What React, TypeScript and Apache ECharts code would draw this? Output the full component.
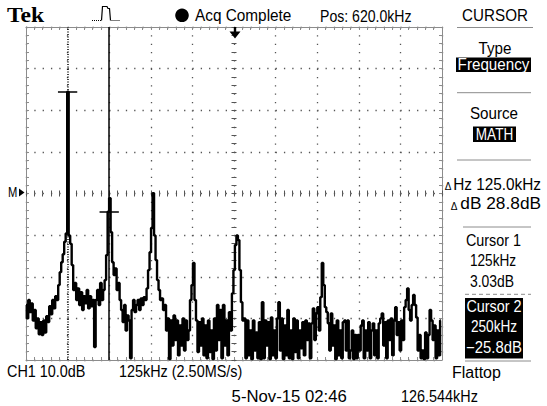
import React, { useEffect, useRef } from "react";
import * as echarts from "echarts";

const FREQ_SPAN_KHZ = 1250; // 10 div x 125 kHz/div
const BIN_KHZ = 4.5; // spacing of the displayed FFT samples
const DB_MIN = -61.4;
const DB_MAX = 18.6; // 8 div x 10 dB/div

const LEVEL_DB: number[] = [
  -48.2, -51.4, -47.0, -49.9, -47.8, -51.9, -49.4, -53.8, -51.4, -55.2,
  -52.3, -55.4, -51.9, -54.8, -50.9, -52.3, -48.5, -50.4, -47.0, -49.0,
  -46.1, -47.0, -43.4, -40.3, -37.9, -36.0, -33.0, -31.0, 3.03, -31.5,
  -33.5, -38.6, -44.6, -42.9, -47.0, -44.2, -48.2, -45.1, -49.4, -46.1,
  -47.8, -44.6, -49.0, -46.1, -48.5, -47.0, -58.3, -47.0, -44.6, -48.2,
  -42.9, -47.0, -44.6, -42.2, -36.2, -25.8, -22.5, -30.7, -37.9, -41.0,
  -39.4, -44.6, -42.9, -47.0, -49.4, -52.3, -48.2, -54.3, -50.7, -51.9,
  -61.0, -49.4, -47.0, -49.9, -48.2, -47.0, -49.4, -46.6, -48.2, -46.3,
  -47.0, -44.2, -39.8, -35.5, -29.7, -21.3, -31.5, -37.4, -42.2, -44.6,
  -47.0, -46.6, -49.4, -48.2, -54.3, -51.4, -61.2, -51.9, -57.9, -50.7,
  -56.6, -51.9, -60.3, -53.1, -57.9, -51.4, -59.1, -51.9, -56.6, -54.3,
  -47.0, -43.4, -38.1, -47.0, -51.9, -59.5, -52.3, -57.9, -51.4, -60.3,
  -53.1, -61.0, -51.9, -59.5, -54.3, -61.2, -51.4, -59.1, -48.2, -56.6,
  -49.4, -61.0, -48.2, -57.9, -51.9, -60.3, -49.9, -54.3, -45.4, -39.8,
  -33.8, -31.5, -32.6, -39.8, -47.5, -51.9, -51.4, -61.0, -51.9, -60.3,
  -54.3, -61.2, -51.9, -59.1, -54.8, -61.0, -52.3, -61.2, -47.5, -61.0,
  -51.9, -57.9, -52.3, -61.2, -51.2, -60.3, -54.3, -61.0, -51.4, -47.5,
  -59.1, -51.4, -61.2, -53.1, -60.3, -49.4, -61.0, -54.3, -61.2, -51.4,
  -59.5, -51.9, -61.0, -54.3, -58.6, -52.3, -60.3, -51.9, -56.6, -52.6,
  -61.0, -52.6, -49.0, -56.6, -50.2, -48.7, -54.3, -46.3, -38.1, -43.4,
  -48.7, -49.9, -52.6, -59.1, -50.2, -57.9, -53.1, -61.2, -51.9, -60.3,
  -54.3, -61.0, -52.3, -51.9, -59.1, -51.9, -61.0, -59.1, -54.3, -61.2,
  -55.4, -61.0, -55.4, -59.1, -53.1, -51.9, -61.0, -54.3, -59.1, -52.3,
  -61.0, -54.3, -52.6, -60.3, -54.3, -61.0, -52.6, -51.4, -50.2, -57.9,
  -52.3, -61.0, -51.9, -56.6, -51.4, -60.3, -51.9, -48.7, -55.4, -52.3,
  -59.1, -51.9, -56.6, -48.7, -47.0, -44.2, -49.4, -51.9, -48.2, -45.8,
  -48.2, -51.2, -59.1, -55.4, -61.0, -59.1, -61.2, -54.8, -61.0, -55.4,
  -49.4, -51.9, -56.6, -53.1, -61.0, -54.3, -60.3, -51.9,
];

const CURSOR1 = { freq: 125, db: 3.03 };
const CURSOR2 = { freq: 250, db: -25.8 };

const HEADER = { brand: "Tek", acq: "Acq Complete", pos: "Pos: 620.0kHz", menu: "CURSOR" };
const PANEL = {
  typeLabel: "Type",
  typeValue: "Frequency",
  sourceLabel: "Source",
  sourceValue: "MATH",
  deltaHz: "Hz 125.0kHz",
  deltaDb: "dB 28.8dB",
  c1: ["Cursor 1", "125kHz", "3.03dB"],
  c2: ["Cursor 2", "250kHz", "\u221225.8dB"],
};
const FOOTER = {
  ch: "CH1 10.0dB",
  span: "125kHz (2.50MS/s)",
  window: "Flattop",
  date: "5-Nov-15 02:46",
  counter: "126.544kHz",
};

// ---- layout ----
const GRID = { left: 26, top: 27, width: 416, height: 333 };
const FRAME = "#8c8c8c";
const DOT = "#555";
const SANS = '"Liberation Sans", Arial, sans-serif';
const CROSS_KHZ = 29;

function txt(text: string, x: number, y: number, o: any = {}) {
  const align = o.align ?? "left";
  return {
    type: "text",
    x,
    y,
    scaleX: o.sx ?? 0.9,
    silent: true,
    z: 10,
    style: {
      text,
      x: 0,
      y: 0,
      fill: o.fill ?? "#000",
      font: o.font ?? `${o.size ?? 16}px ${SANS}`,
      textAlign: align,
      align,
      textVerticalAlign: "middle",
      verticalAlign: "middle",
    },
  };
}
function hline(x1: number, x2: number, y: number, dash?: number[]) {
  return {
    type: "line",
    silent: true,
    shape: { x1, y1: y, x2, y2: y },
    style: { stroke: FRAME, lineWidth: 1, lineDash: dash },
  };
}
function rect(x: number, y: number, w: number, h: number) {
  return { type: "rect", silent: true, shape: { x, y, width: w, height: h }, style: { fill: "#000" } };
}

function divAxis(max: number, extra: any) {
  return {
    type: "value",
    min: 0,
    max,
    interval: 1,
    axisLabel: { show: false },
    splitLine: { show: false },
    axisLine: { show: false, onZero: false },
    axisTick: { show: true, inside: true, length: 3, lineStyle: { color: FRAME, width: 1 } },
    minorTick: { show: true, splitNumber: 5, length: 3, lineStyle: { color: FRAME, width: 1 } },
    ...extra,
  };
}
const frameLine = { show: true, onZero: false, lineStyle: { color: FRAME, width: 1 } };

export default function App() {
  const ref = useRef<HTMLDivElement>(null);
  useEffect(() => {
    if (!ref.current) return;
    const chart = echarts.init(ref.current, undefined, { renderer: "svg" });
    const trace = LEVEL_DB.map((v, i) => [i * BIN_KHZ, v]);
    const tickIn = (len: number) => ({ show: true, inside: true, length: len, lineStyle: { color: DOT, width: 1 } });
    const tickOut = (len: number) => ({ show: true, inside: false, length: len, lineStyle: { color: DOT, width: 1 } });
    const minor = (len: number) => ({ show: true, splitNumber: 5, length: len, lineStyle: { color: DOT, width: 1 } });
    const dotted = { show: true, lineStyle: { color: DOT, width: 1.3, type: [1.3, 7.02] } };

    const option: any = {
      animation: false,
      backgroundColor: "#fff",
      grid: { ...GRID, containLabel: false, outerBoundsMode: "none" },
      xAxis: [
        { type: "value", min: 0, max: FREQ_SPAN_KHZ, show: false, axisLine: { onZero: false } },
        divAxis(10, { position: "bottom", axisLine: frameLine, splitLine: dotted }),
        divAxis(10, { position: "top", axisLine: frameLine }),
        divAxis(10, { position: "bottom", offset: -GRID.height / 2, axisTick: tickIn(3), minorTick: minor(3) }),
        divAxis(10, { position: "bottom", offset: -GRID.height / 2, axisTick: tickOut(3), minorTick: minor(3) }),
      ],
      yAxis: [
        { type: "value", min: DB_MIN, max: DB_MAX, show: false, axisLine: { onZero: false } },
        divAxis(8, { position: "left", axisLine: frameLine, splitLine: dotted }),
        divAxis(8, { position: "right", axisLine: frameLine }),
        divAxis(8, { position: "left", offset: -GRID.width / 2, axisTick: tickIn(2.5), minorTick: minor(2.5) }),
        divAxis(8, { position: "left", offset: -GRID.width / 2, axisTick: tickOut(2.5), minorTick: minor(2.5) }),
      ],
      series: [
        {
          type: "line",
          xAxisIndex: 0,
          yAxisIndex: 0,
          data: trace,
          step: "middle",
          showSymbol: false,
          symbol: "none",
          clip: true,
          silent: true,
          z: 5,
          lineStyle: { color: "#000", width: 2.4 },
          markLine: {
            silent: true,
            symbol: ["none", "none"],
            label: { show: false },
            emphasis: { disabled: true },
            data: [
              { xAxis: CURSOR1.freq, lineStyle: { color: "#000", width: 1.5, type: [1, 1.5] } },
              { xAxis: CURSOR2.freq, lineStyle: { color: "#000", width: 1.5, type: "solid" } },
              [
                { coord: [CURSOR1.freq - CROSS_KHZ, CURSOR1.db], lineStyle: { color: "#000", width: 1.5, type: "solid" } },
                { coord: [CURSOR1.freq + CROSS_KHZ, CURSOR1.db] },
              ],
              [
                { coord: [CURSOR2.freq - CROSS_KHZ, CURSOR2.db], lineStyle: { color: "#000", width: 1.5, type: "solid" } },
                { coord: [CURSOR2.freq + CROSS_KHZ, CURSOR2.db] },
              ],
            ],
          },
        },
      ],
      graphic: {
        elements: [
          // header
          txt(HEADER.brand, 7, 15.2, { font: `bold 20px "Liberation Serif", "Times New Roman", serif`, sx: 1.18 }),
          { type: "line", silent: true, shape: { x1: 92, y1: 20.5, x2: 101, y2: 20.5 }, style: { stroke: "#000", lineWidth: 1, lineDash: [1, 1] } },
          {
            type: "polyline",
            silent: true,
            shape: { points: [[101.5, 20.5], [102.5, 6.5], [107, 6.5], [108, 8.5], [109.5, 8.5], [110.5, 20.5]] },
            style: { stroke: "#000", lineWidth: 1.2, fill: "none" },
          },
          { type: "line", silent: true, shape: { x1: 111.5, y1: 20.5, x2: 120, y2: 20.5 }, style: { stroke: "#000", lineWidth: 1, lineDash: [1, 1] } },
          { type: "circle", silent: true, shape: { cx: 182, cy: 15.3, r: 6.8 }, style: { fill: "#000" } },
          txt(HEADER.acq, 195, 15.7, { sx: 0.96 }),
          txt(HEADER.pos, 320, 15.7, { sx: 0.88 }),
          txt(HEADER.menu, 495, 15.7, { align: "center", sx: 0.95 }),
          hline(457, 533, 27.5),
          // trigger-position arrow
          {
            type: "polygon",
            silent: true,
            z: 12,
            shape: { points: [[233.8, 27], [236.2, 27], [236.2, 31.5], [240.5, 31.5], [235, 38.5], [229.5, 31.5], [233.8, 31.5]] },
            style: { fill: "#000" },
          },
          // M reference marker
          txt("M", 8, 192.5, { size: 14, sx: 0.8 }),
          { type: "polygon", silent: true, shape: { points: [[19, 188.5], [24.5, 192.5], [19, 196.5]] }, style: { fill: "#000" } },
          // side panel
          txt(PANEL.typeLabel, 495, 48.5, { align: "center", sx: 0.95 }),
          rect(456, 57.5, 75, 14.5),
          txt(PANEL.typeValue, 493.5, 64, { align: "center", sx: 0.95, fill: "#fff" }),
          hline(457, 531, 92.7),
          txt(PANEL.sourceLabel, 494, 113, { align: "center", sx: 0.95 }),
          rect(473, 126.5, 43, 15.5),
          txt(PANEL.sourceValue, 494.5, 134.5, { align: "center", sx: 0.85, fill: "#fff" }),
          hline(457, 531, 160),
          txt("\u0394", 448, 186, { size: 10, sx: 1.0, align: "center" }),
          txt(PANEL.deltaHz, 541, 184, { align: "right", sx: 0.96 }),
          txt("\u0394", 454, 206, { size: 10, sx: 1.0, align: "center" }),
          txt(PANEL.deltaDb, 541, 204, { align: "right", sx: 1.08 }),
          hline(463, 531, 227),
          txt(PANEL.c1[0], 493.5, 240, { align: "center", sx: 0.9 }),
          txt(PANEL.c1[1], 493, 261, { align: "center", sx: 0.85 }),
          txt(PANEL.c1[2], 492, 281, { align: "center", sx: 0.87 }),
          hline(465, 531, 294.3, [4, 3]),
          rect(465, 298, 58, 60.5),
          txt(PANEL.c2[0], 494, 306.5, { align: "center", sx: 0.9, fill: "#fff" }),
          txt(PANEL.c2[1], 494, 327, { align: "center", sx: 0.85, fill: "#fff" }),
          txt(PANEL.c2[2], 494, 347, { align: "center", sx: 0.93, fill: "#fff" }),
          hline(465, 531, 361),
          // footer
          txt(FOOTER.ch, 7, 371, { sx: 0.9 }),
          txt(FOOTER.span, 119, 371, { sx: 0.9 }),
          txt(FOOTER.window, 452, 372, { sx: 1.0 }),
          txt(FOOTER.date, 231.6, 396.5, { sx: 1.045 }),
          txt(FOOTER.counter, 401, 396.5, { sx: 0.9 }),
        ],
      },
    };
    chart.setOption(option);
    return () => chart.dispose();
  }, []);
  return (
    <div
      ref={ref}
      style={{ position: "fixed", left: 0, top: 0, width: 547, height: 406, background: "#fff" }}
    />
  );
}
